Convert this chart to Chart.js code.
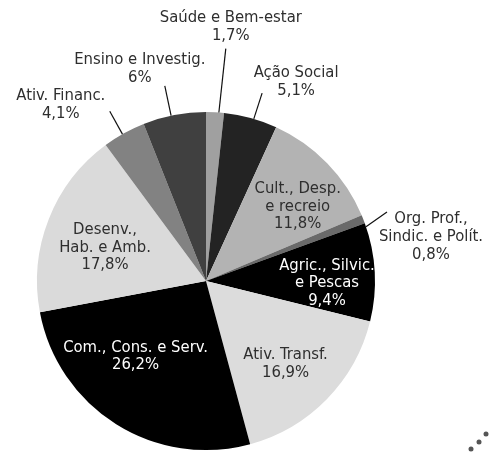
<!DOCTYPE html>
<html>
<head>
<meta charset="utf-8">
<script src="https://cdn.jsdelivr.net/npm/chart.js@4/dist/chart.umd.min.js"></script>
<style>
  html, body { margin: 0; padding: 0; background: #ffffff; }
  #wrap { position: relative; width: 491px; height: 452px; }
</style>
</head>
<body>
<div id="wrap"><canvas id="c" width="491" height="452"></canvas></div>
<script>
// ---- data ----
const categories = ['Saúde e Bem-estar', 'Ação Social', 'Cult., Desp. e recreio', 'Org. Prof., Sindic. e Polít.', 'Agric., Silvic. e Pescas', 'Ativ. Transf.', 'Com., Cons. e Serv.', 'Desenv., Hab. e Amb.', 'Ativ. Financ.', 'Ensino e Investig.'];
const values = [1.7, 5.1, 11.8, 0.8, 9.4, 16.9, 26.2, 17.8, 4.1, 6.0];
const labelLines = [
  ['Saúde e Bem-estar'],
  ['Ação Social'],
  ['Cult., Desp.', 'e recreio'],
  ['Org. Prof.,', 'Sindic. e Polít.'],
  ['Agric., Silvic.', 'e Pescas'],
  ['Ativ. Transf.'],
  ['Com., Cons. e Serv.'],
  ['Desenv.,', 'Hab. e Amb.'],
  ['Ativ. Financ.'],
  ['Ensino e Investig.']
];
const sliceColors = ['#a0a0a0', '#232323', '#b3b3b3', '#6a6a6a', '#000000', '#dcdcdc', '#000000', '#dadada', '#828282', '#404040'];

// ---- label layout (style, not data) ----
const FONT = '16.5px "DejaVu Sans Condensed", "Liberation Sans Narrow", sans-serif';
const TEXT_DARK = '#2e2e2e';
const labelLayout = [
  { type: 'out', e: 1.3, o: 1.8, f: 1.38, tdx: 5, tdy: -13 },
  { type: 'out', e: 1.1, o: 1.3, f: 1.16, tdx: 34, tdy: -2 },
  { type: 'in', f: 0.70, s: 5, color: TEXT_DARK },
  { type: 'out', e: 2.7, o: 0.6, f: 1.146, tdx: 44, tdy: 43 },
  { type: 'in', f: 0.716, s: 4, color: '#ffffff' },
  { type: 'in', f: 0.68, s: 1.8, color: TEXT_DARK },
  { type: 'in', f: 0.61, s: 11, color: '#ffffff' },
  { type: 'in', f: 0.63, s: -3, color: TEXT_DARK },
  { type: 'out', e: -0.6, o: -0.5, f: 1.155, tdx: -49, tdy: 3 },
  { type: 'out', e: -1.1, o: -1.1, f: 1.18, tdx: -25, tdy: -8 }
];

function pct(v) { return String(v).replace('.', ',') + '%'; }

const labelsPlugin = {
  id: 'pieLabels',
  afterDatasetsDraw(chart) {
    const ctx = chart.ctx;
    const meta = chart.getDatasetMeta(0);
    ctx.save();
    ctx.font = FONT;
    ctx.textAlign = 'center';
    ctx.textBaseline = 'middle';
    meta.data.forEach((arc, i) => {
      const L = labelLayout[i];
      const cx = arc.x, cy = arc.y, r = arc.outerRadius;
      const mid = (arc.startAngle + arc.endAngle) / 2;
      const lines = labelLines[i].concat([pct(values[i])]);
      const rad = d => d * Math.PI / 180;
      if (L.type === 'in') {
        const a = mid + rad(L.s);
        const px = cx + Math.cos(a) * r * L.f;
        const py = cy + Math.sin(a) * r * L.f;
        const lh = 17.5;
        ctx.fillStyle = L.color;
        lines.forEach((t, k) => {
          ctx.fillText(t, px, py + (k - (lines.length - 1) / 2) * lh);
        });
      } else {
        const a1 = mid + rad(L.e), a2 = mid + rad(L.o);
        const x1 = cx + Math.cos(a1) * r, y1 = cy + Math.sin(a1) * r;
        const x2 = cx + Math.cos(a2) * r * L.f, y2 = cy + Math.sin(a2) * r * L.f;
        ctx.strokeStyle = '#111111';
        ctx.lineWidth = 1.2;
        ctx.beginPath();
        ctx.moveTo(x1, y1);
        ctx.lineTo(x2, y2);
        ctx.stroke();
        const lh = 18;
        const tx = x2 + L.tdx, ty = y2 + L.tdy;
        ctx.fillStyle = TEXT_DARK;
        lines.forEach((t, k) => {
          ctx.fillText(t, tx, ty - (lines.length - 1 - k) * lh);
        });
      }
    });
    ctx.restore();
  },
  afterDraw(chart) {
    // decorative dots, bottom-right corner
    const ctx = chart.ctx;
    const W = chart.width, H = chart.height;
    ctx.save();
    ctx.fillStyle = '#555555';
    [[20, 3], [12, 10], [5, 18]].forEach(([dx, dy]) => {
      ctx.beginPath();
      ctx.arc(W - dx, H - dy, 2.5, 0, Math.PI * 2);
      ctx.fill();
    });
    ctx.restore();
  }
};

new Chart(document.getElementById('c'), {
  type: 'pie',
  data: {
    labels: categories,
    datasets: [{
      data: values,
      backgroundColor: sliceColors,
      borderWidth: 0
    }]
  },
  options: {
    responsive: false,
    animation: false,
    layout: { padding: { left: 37, top: 112, right: 116, bottom: 2 } },
    plugins: {
      legend: { display: false },
      tooltip: { enabled: false }
    }
  },
  plugins: [labelsPlugin]
});
</script>
</body>
</html>
